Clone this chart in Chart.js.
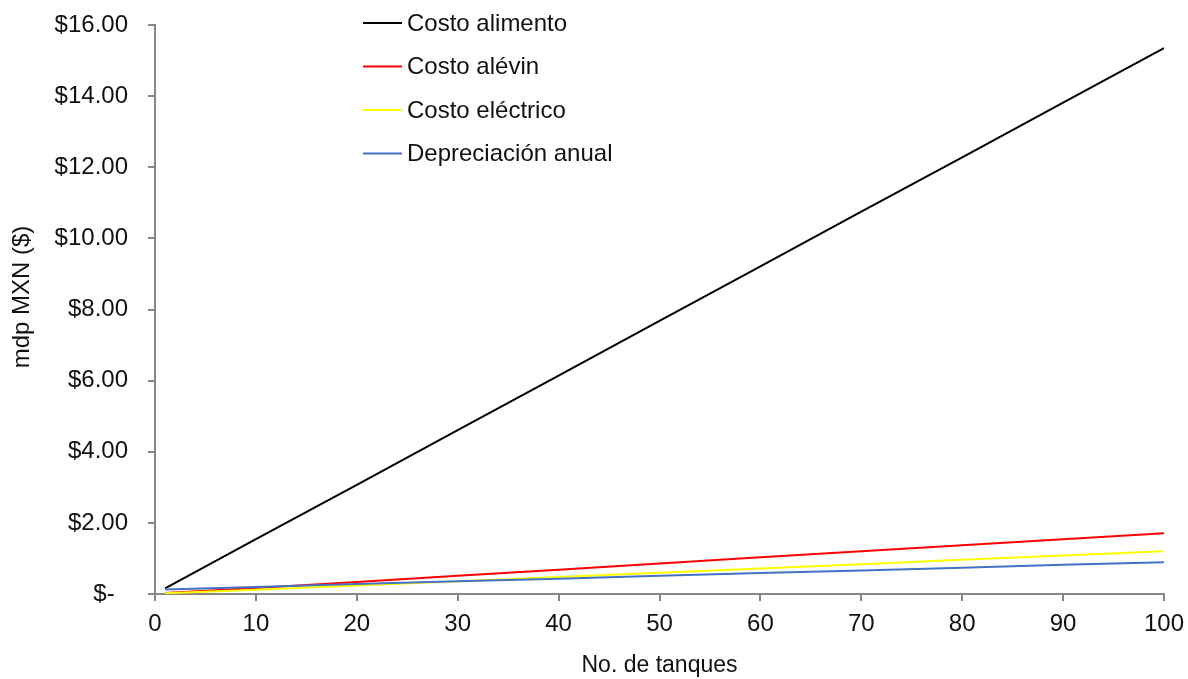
<!DOCTYPE html>
<html>
<head>
<meta charset="utf-8">
<script src="https://cdn.jsdelivr.net/npm/chart.js@4.4.1/dist/chart.umd.min.js"></script>
<style>
  html, body { margin: 0; padding: 0; background: #ffffff; }
  #wrap { width: 1188px; height: 679px; position: relative; }
</style>
</head>
<body>
<div id="wrap"><canvas id="c" width="1188" height="679"></canvas></div>
<script>
// Número de tanques (eje X)
const tanques = [1, 10, 20, 30, 40, 50, 60, 70, 80, 90, 100];

// Costos en millones de pesos (mdp MXN)
const costoAlimento = [0.16, 1.54, 3.07, 4.61, 6.14, 7.68, 9.21, 10.75, 12.28, 13.82, 15.35];
const costoAlevin = [0.03, 0.17, 0.34, 0.51, 0.68, 0.86, 1.03, 1.20, 1.37, 1.54, 1.71];
const costoElectrico = [0.02, 0.12, 0.24, 0.36, 0.48, 0.60, 0.72, 0.84, 0.96, 1.08, 1.20];
const depreciacion = [0.13, 0.20, 0.28, 0.36, 0.43, 0.51, 0.59, 0.66, 0.74, 0.82, 0.89];

const seriesNames = ['Costo alimento', 'Costo alévin', 'Costo eléctrico', 'Depreciación anual'];
const seriesColors = ['#000000', '#FF0000', '#FFFF00', '#4472C4'];
const seriesValues = [costoAlimento, costoAlevin, costoElectrico, depreciacion];

const FONT = "'Liberation Sans', Arial, sans-serif";
const AXIS_GREY = '#868686';
const TEXT = '#111111';

function toPoints(vals) {
  return tanques.map((t, i) => ({ x: t, y: vals[i] }));
}

// Leyenda dibujada dentro del área de la gráfica
const insideLegend = {
  id: 'insideLegend',
  afterDraw(chart) {
    const ctx = chart.ctx;
    const x0 = 363, x1 = 402, tx = 407;
    const rows = [23, 66.5, 110, 153.5];
    ctx.save();
    ctx.font = '24px ' + FONT;
    ctx.textBaseline = 'middle';
    ctx.textAlign = 'left';
    chart.data.datasets.forEach((ds, i) => {
      ctx.strokeStyle = ds.borderColor;
      ctx.lineWidth = 2;
      ctx.beginPath();
      ctx.moveTo(x0, rows[i]);
      ctx.lineTo(x1, rows[i]);
      ctx.stroke();
      ctx.fillStyle = TEXT;
      ctx.fillText(ds.label, tx, rows[i] + 1);
    });
    ctx.restore();
  }
};

// Título del eje Y, girado
const yTitle = {
  id: 'yTitle',
  afterDraw(chart) {
    const ctx = chart.ctx;
    ctx.save();
    ctx.translate(22, 297);
    ctx.rotate(-Math.PI / 2);
    ctx.font = '24px ' + FONT;
    ctx.fillStyle = TEXT;
    ctx.textAlign = 'center';
    ctx.textBaseline = 'middle';
    ctx.fillText('mdp MXN ($)', 0, 0);
    ctx.restore();
  }
};

new Chart(document.getElementById('c'), {
  type: 'line',
  data: {
    datasets: seriesNames.map((name, i) => ({
      label: name,
      data: toPoints(seriesValues[i]),
      borderColor: seriesColors[i],
      backgroundColor: seriesColors[i],
      borderWidth: 2,
      pointRadius: 0,
      tension: 0,
      fill: false,
      order: 4 - i
    }))
  },
  options: {
    responsive: false,
    animation: false,
    layout: { padding: { top: 25, right: 24, left: 0, bottom: 0 } },
    plugins: {
      legend: { display: false },
      tooltip: { enabled: false }
    },
    scales: {
      x: {
        type: 'linear',
        min: 0,
        max: 100,
        afterFit(scale) {
          scale.height = 85;
          scale.paddingLeft = 0;
          scale.paddingRight = 0;
        },
        ticks: {
          stepSize: 10,
          color: TEXT,
          font: { family: FONT, size: 24 },
          padding: 9,
          maxRotation: 0
        },
        grid: {
          display: true,
          drawOnChartArea: false,
          drawTicks: true,
          tickLength: 7,
          color: AXIS_GREY,
          lineWidth: 2
        },
        border: { display: true, color: AXIS_GREY, width: 2 },
        title: {
          display: true,
          text: 'No. de tanques',
          color: TEXT,
          font: { family: FONT, size: 23 },
          padding: { top: 8, bottom: 0 }
        }
      },
      y: {
        min: 0,
        max: 16,
        afterFit(scale) {
          scale.width = 155;
          scale.paddingTop = 0;
          scale.paddingBottom = 0;
        },
        ticks: {
          stepSize: 2,
          color: TEXT,
          font: { family: FONT, size: 24 },
          padding: 20,
          callback(v) { return v === 0 ? '$-  ' : '$' + v.toFixed(2); }
        },
        grid: {
          display: true,
          drawOnChartArea: false,
          drawTicks: true,
          tickLength: 7,
          color: AXIS_GREY,
          lineWidth: 2
        },
        border: { display: true, color: AXIS_GREY, width: 2 },
        title: { display: false }
      }
    }
  },
  plugins: [insideLegend, yTitle]
});
</script>
</body>
</html>
